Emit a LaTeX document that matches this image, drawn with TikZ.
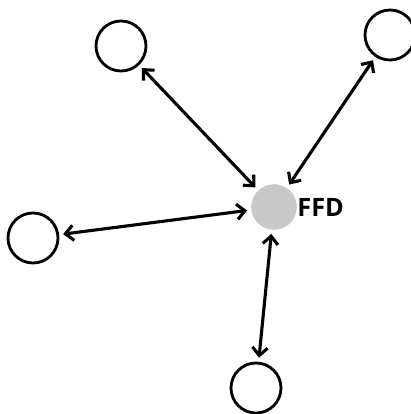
\documentclass[tikz,border=0pt]{standalone}
\usepackage{fontspec}
\setmainfont{Open Sans}
\usetikzlibrary{positioning}
\usetikzlibrary{arrows.meta}
\definecolor{hubgray}{RGB}{200,200,200}
\tikzstyle{every link} = []
\tikzstyle{link} = [<->, >={Straight Barb[length=0.2cm,width=0.38cm]}, line width=2.2pt, shorten >=0.1cm, shorten <=0.1cm, draw, every link]
\tikzstyle{peer} = [circle, draw, line width=2pt, minimum size=1.25cm, inner sep=0pt]
\tikzstyle{hub} = [circle, fill=hubgray, minimum size=1.14cm, inner sep=0pt]

\begin{document}
\begin{tikzpicture}[x=0.025cm, y=-0.025cm]
                    \clip (0,0) rectangle (411,414);
                    \node[hub] (ffd) at (274,207) {};
                    \node[right=0pt of ffd, inner sep=0pt, font=\fontsize{18}{20}\selectfont\bfseries] (ffdlabel) {FFD};
                    \node[peer] (nw) at (121,46) {};
                    \node[peer] (ne) at (390,35) {};
                    \node[peer] (w) at (33,238) {};
                    \node[peer] (s) at (256,388) {};
                    \path[link] (ffd) -- (nw);
                    \path[link] (ffd) -- (ne);
                    \path[link] (ffd) -- (w);
                    \path[link] (ffd) -- (s);
                \end{tikzpicture}
\end{document}
